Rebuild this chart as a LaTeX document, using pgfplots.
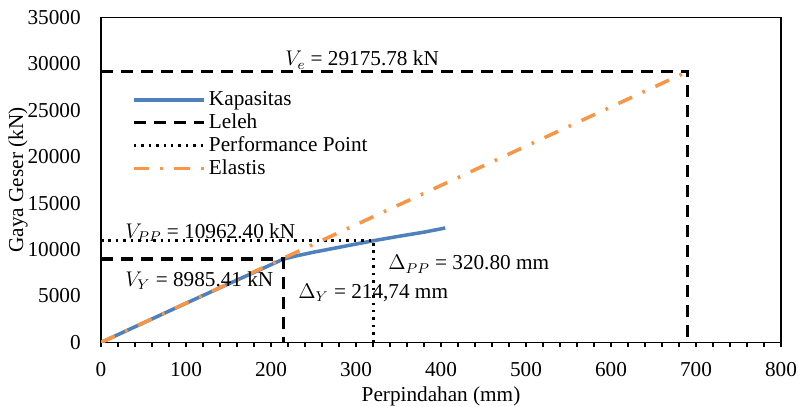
\documentclass[border=0pt]{standalone}
\usepackage{fontspec}
\setmainfont{Liberation Serif}
\usepackage{pgfplots}
\pgfplotsset{compat=1.18}

\definecolor{kapblue}{HTML}{4F81BD}
\definecolor{elorange}{HTML}{F79646}

\begin{document}
\fontsize{12}{14}\selectfont
\begin{tikzpicture}
\useasboundingbox (-57.1pt,-36.4pt) rectangle (393.8pt,193.5pt);
\begin{axis}[
  scale only axis, width=384.2pt, height=183.6pt,
  xmin=0, xmax=800, ymin=0, ymax=35000,
  xtick={0,100,...,800}, ytick={0,5000,...,35000},
  scaled y ticks=false,
  minor x tick num=4,
  tick align=outside, tick pos=left,
  major tick length=2.3pt, minor tick length=2.3pt,
  ytick style={draw=none},
  every tick/.style={black, line width=0.7pt},
  axis line style={line width=0.8pt},
  /pgf/number format/1000 sep={},
  /pgf/number format/assume math mode=true,
  xticklabel style={yshift=-4.5pt},
  yticklabel style={xshift=-5pt},
  xlabel={Perpindahan (mm)},
  ylabel={Gaya Geser (kN)},
  xlabel style={at={(axis description cs:0.5,-0.165)}, anchor=center},
  ylabel style={at={(axis description cs:-0.122,0.5)}, anchor=center},
  legend style={at={(axis description cs:0.045,0.785)}, anchor=north west,
    draw=none, fill=none, inner sep=0pt, row sep=-1.2pt,
    nodes={inner sep=2pt}},
  legend cell align=left,
  legend image code/.code={\draw[#1] (0pt,0pt) -- (39.5pt,0pt);},
]
\addplot[kapblue, line width=2pt] coordinates {
  (0,0)(40,1690)(80,3380)(120,5060)(160,6720)(185,7750)(200,8380)
  (214.74,8985.41)(230,9330)(250,9720)(275,10160)(300,10600)
  (320.8,10962.4)(350,11430)(380,11880)(405,12330)};
\addlegendentry{Kapasitas}
\addplot[black, line width=2pt, dash pattern=on 6.8pt off 4.5pt] coordinates {
  (0,8985.41)(214.74,8985.41)(214.74,0)};
\addlegendentry{Leleh}
\addplot[black, line width=1.6pt, dash pattern=on 1.4pt off 2.8pt] coordinates {
  (0,10962.40)(320.80,10962.40)(320.80,0)};
\addlegendentry{Performance Point}
\addplot[elorange, line width=2pt, dash pattern=on 8.5pt off 6.5pt on 1.5pt off 6.5pt] coordinates {
  (0,0)(690,29175.78)};
\addlegendentry{Elastis}
\addplot[black, line width=2pt, dash pattern=on 6.8pt off 4.5pt, forget plot] coordinates {
  (0,29175.78)(690,29175.78)(690,0)};

\node[anchor=base west, inner sep=0pt] at (axis cs:216.5,29780) {$V_e$ = 29175.78 kN};
\node[anchor=base west, inner sep=0pt] at (axis cs:28.2,11222) {$V_{PP}$ = 10962.40 kN};
\node[anchor=base west, inner sep=0pt] at (axis cs:28.2,6010) {$V_Y$ = 8985.41 kN};
\node[anchor=base west, inner sep=0pt] at (axis cs:231.8,4760) {$\Delta_Y$ = 214,74 mm};
\node[anchor=base west, inner sep=0pt] at (axis cs:337.6,7808) {$\Delta_{PP}$ = 320.80 mm};
\end{axis}
\end{tikzpicture}
\end{document}
